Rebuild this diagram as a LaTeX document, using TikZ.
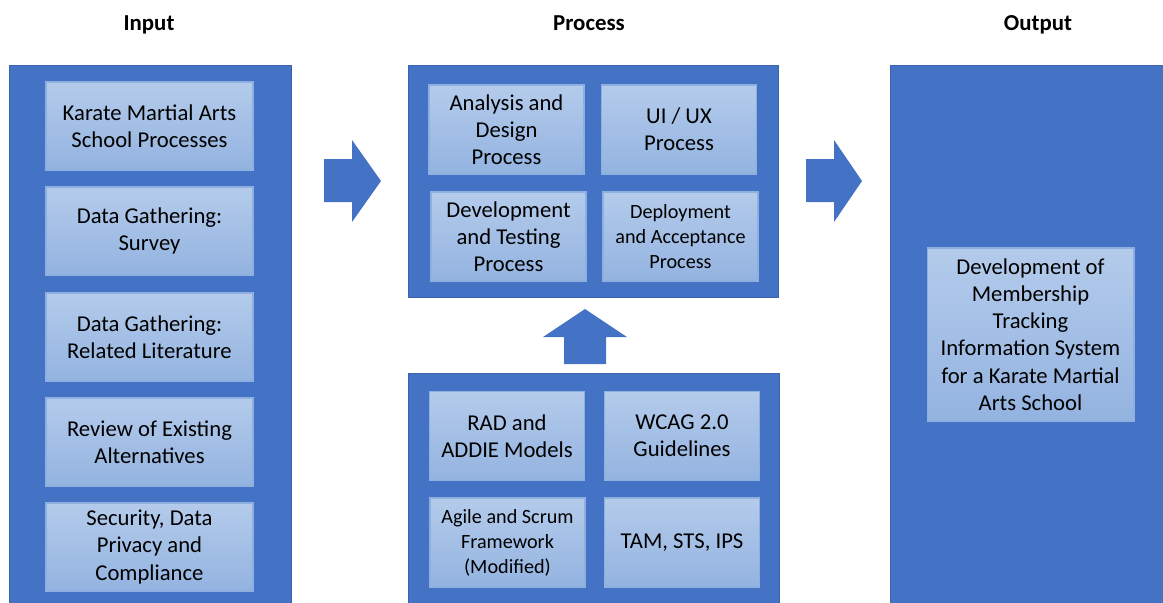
\documentclass[tikz,border=0pt]{standalone}
\usepackage{fontspec}
\setmainfont{Carlito}
\usepackage{xcolor}
\definecolor{panelblue}{HTML}{4472C4}
\definecolor{paneledge}{HTML}{3A64B0}
\definecolor{boxtop}{HTML}{B4CBEB}
\definecolor{boxbottom}{HTML}{93B3E0}
\definecolor{boxedge}{HTML}{8EB0E0}

\begin{document}
\begin{tikzpicture}[
        x=0.02cm,
        y=-0.02cm,
        panel/.style={
            fill=panelblue,
            draw=paneledge,
            line width=0.4pt
        },
        blockarrow/.style={
            fill=panelblue,
            draw=none
        },
        heading/.style={
            anchor=base,
            font=\bfseries\fontsize{13}{15.5}\selectfont
        },
        block/.style={
            rectangle,
            draw=boxedge,
            line width=0.6pt,
            top color=boxtop,
            bottom color=boxbottom,
            align=center,
            inner sep=0pt,
            font=\fontsize{12.9}{15.5}\selectfont
        },
        inblock/.style={
            block,
            minimum width=4.14cm,
            minimum height=1.76cm
        },
        procblock/.style={
            block,
            minimum width=3.1cm,
            minimum height=1.78cm
        },
        small/.style={
            font=\fontsize{11.5}{14.2}\selectfont
        },
        ]

        \useasboundingbox (0,0) rectangle (1163,602);

        % headings
        \node [heading] (input-title) at (149,30) {Input};
        \node [heading] (process-title) at (589,30) {Process};
        \node [heading] (output-title) at (1038,30) {Output};

        % panels
        \path [panel] (9,65) rectangle (291,603);
        \path [panel] (408,65) rectangle (778,297);
        \path [panel] (408,373) rectangle (779,603);
        \path [panel] (890,65) rectangle (1164,603);

        % block arrows
        \path [blockarrow] (324,159) -- (352,159) -- (352,140) -- (381,181)
            -- (352,222) -- (352,202) -- (324,202) -- cycle;
        \path [blockarrow] (806,159) -- (834,159) -- (834,140) -- (862,181)
            -- (834,222) -- (834,202) -- (806,202) -- cycle;
        \path [blockarrow] (564,364) -- (564,337) -- (543,337) -- (585,309)
            -- (627,337) -- (606,337) -- (606,364) -- cycle;

        % input
        \node [inblock] (school-processes) at (149.5,126) {Karate Martial Arts\\School Processes};
        \node [inblock] (survey) at (149.5,231) {Data Gathering:\\Survey};
        \node [inblock] (literature) at (149.5,337) {Data Gathering:\\Related Literature};
        \node [inblock] (alternatives) at (149.5,442) {Review of Existing\\Alternatives};
        \node [inblock] (security) at (149.5,547) {Security, Data\\Privacy and\\Compliance};

        % process
        \node [procblock] (analysis-design) at (506.5,129.5) {Analysis and\\Design\\Process};
        \node [procblock] (ui-ux) at (679,129.5) {UI / UX\\Process};
        \node [procblock] (development-testing) at (508.5,236.5) {Development\\and Testing\\Process};
        \node [procblock,small] (deployment-acceptance) at (680.5,236.5) {Deployment\\and Acceptance\\Process};

        % frameworks
        \node [procblock] (rad-addie) at (507,436) {RAD and\\ADDIE Models};
        \node [procblock] (wcag) at (682,436) {WCAG 2.0\\Guidelines};
        \node [procblock,small] (agile-scrum) at (507.5,542.5) {Agile and Scrum\\Framework\\(Modified)};
        \node [procblock] (tam-sts-ips) at (682,542.5) {TAM, STS, IPS};

        % output
        \node [block,minimum width=4.14cm,minimum height=3.46cm] (membership-system) at (1030.5,334.5)
            {Development of\\Membership\\Tracking\\Information System\\for a Karate Martial\\Arts School};
    \end{tikzpicture}
\end{document}
